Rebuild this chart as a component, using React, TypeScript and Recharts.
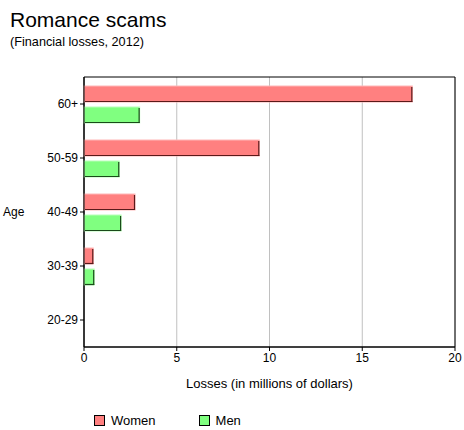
import React from 'react';
import { BarChart, Bar, XAxis, YAxis, CartesianGrid, ReferenceArea } from 'recharts';

const ageGroups = ['60+', '50-59', '40-49', '30-39', '20-29'];
const womenLosses = [17.7, 9.45, 2.75, 0.5, 0];
const menLosses = [3.0, 1.9, 2.0, 0.55, 0];
const xTicks = [0, 5, 10, 15, 20];

const FONT = "Arial, 'Liberation Sans', sans-serif";

const data = ageGroups.map((age, i) => ({
  age,
  women: womenLosses[i],
  men: menLosses[i],
}));

const makeShape = (fill: string, light: string, dark: string) => (props: any) => {
  const { x, y, width, height } = props;
  if (!width || width <= 0) return <g />;
  return (
    <g>
      <rect x={x} y={y} width={width} height={height} fill={fill} stroke={light} strokeWidth={1} />
      <line x1={x + 1} y1={y + height - 0.5} x2={x + width} y2={y + height - 0.5} stroke={dark} strokeWidth={1.2} />
      <line x1={x + width - 0.5} y1={y + 1} x2={x + width - 0.5} y2={y + height} stroke={dark} strokeWidth={1.2} />
    </g>
  );
};

const womenShape = makeShape('#ff8080', '#ffb8b8', '#5a1a1a');
const menShape = makeShape('#80ff80', '#b8ffb8', '#1a4a1a');

export default function App() {
  return (
    <div style={{ position: 'absolute', left: 0, top: 0, width: 464, height: 430, background: '#fff', fontFamily: FONT }}>
      <div style={{ position: 'absolute', left: 10, top: 8, fontSize: 21, color: '#000' }}>Romance scams</div>
      <div style={{ position: 'absolute', left: 10, top: 35, fontSize: 12.7, color: '#000' }}>(Financial losses, 2012)</div>
      <div style={{ position: 'absolute', left: 3, top: 205, fontSize: 12, color: '#000' }}>Age</div>
      <div style={{ position: 'absolute', left: 84, width: 371, top: 376, fontSize: 13, color: '#000', textAlign: 'center' }}>
        Losses (in millions of dollars)
      </div>
      <BarChart
        width={464}
        height={430}
        data={data}
        layout="vertical"
        margin={{ top: 77, right: 9, bottom: 53, left: 0 }}
        barSize={16}
        barGap={5}
      >
        <CartesianGrid horizontal={false} vertical stroke="#c0c0c0" />
        <XAxis
          type="number"
          domain={[0, 20]}
          ticks={xTicks}
          axisLine={{ stroke: '#000' }}
          tickLine={{ stroke: '#000' }}
          tickSize={4}
          tick={{ fill: '#000', fontSize: 12, fontFamily: FONT }}
          height={30}
        />
        <YAxis
          type="category"
          dataKey="age"
          width={84}
          axisLine={{ stroke: '#000' }}
          tickLine={{ stroke: '#000' }}
          tickSize={4}
          tickMargin={2}
          tick={{ fill: '#000', fontSize: 12, fontFamily: FONT }}
        />
        <ReferenceArea x1={0} x2={20} fill="none" stroke="#000" strokeWidth={1} />
        <Bar dataKey="women" name="Women" shape={womenShape} isAnimationActive={false} />
        <Bar dataKey="men" name="Men" shape={menShape} isAnimationActive={false} />
      </BarChart>
      <div style={{ position: 'absolute', top: 413, left: 94, display: 'flex', alignItems: 'center', fontSize: 13, color: '#000' }}>
        <span style={{ display: 'inline-block', width: 9, height: 9, background: '#ff8080', border: '1px solid #000', marginRight: 6 }} />
        <span>Women</span>
        <span style={{ display: 'inline-block', width: 9, height: 9, background: '#80ff80', border: '1px solid #000', marginLeft: 43, marginRight: 6 }} />
        <span>Men</span>
      </div>
    </div>
  );
}
